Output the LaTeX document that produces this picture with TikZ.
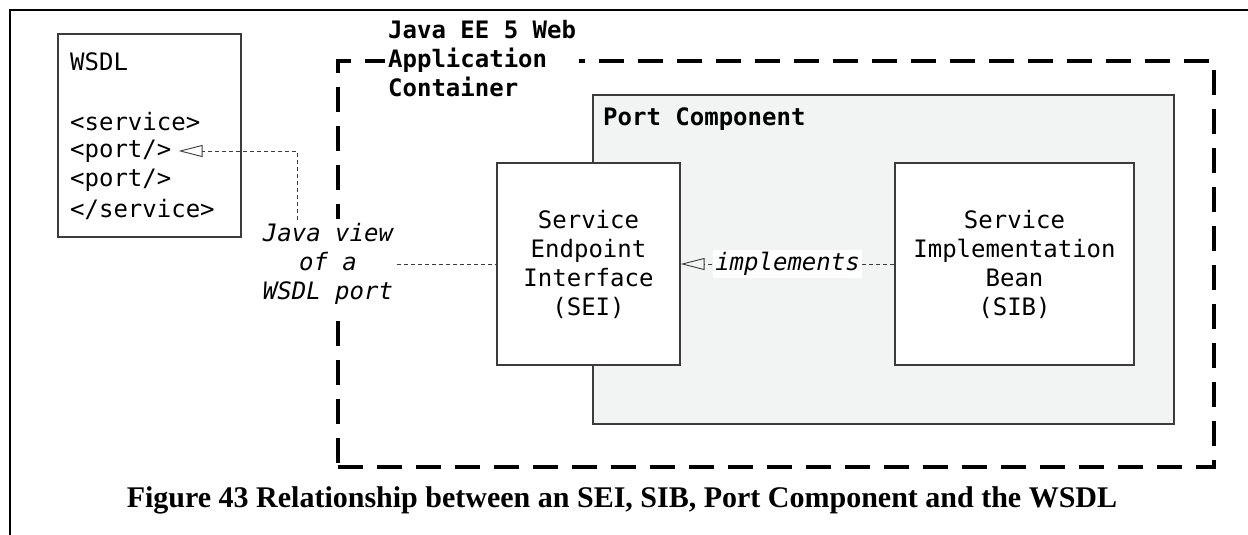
\documentclass[tikz,border=0pt]{standalone}
\usepackage{fontspec}
\setmainfont{Liberation Serif}
\setmonofont{DejaVu Sans Mono}
\usetikzlibrary{arrows.meta,positioning}
\definecolor{portgray}{RGB}{242,243,243}
\definecolor{edge}{RGB}{60,60,60}

\begin{document}
\begin{tikzpicture}[x=1pt, y=-1pt,
		box/.style={draw=edge, line width=1.2pt, inner sep=0pt, align=center},
		code/.style={font=\ttfamily\fontsize{24}{29}\selectfont, inner sep=0pt},
		link/.style={draw=edge, line width=0.9pt, dash pattern=on 4pt off 3pt},
		open/.style={-{Triangle[open, length=24pt, width=12pt, line width=0.9pt]}}]
		\useasboundingbox (0,0) rectangle (1248,535);
		%frame
		\draw[line width=1.8pt] (10,535) -- (10,10) -- (1248,10);
		%WSDL
		\node[box, minimum width=183pt, minimum height=203pt] (wsdl) at (149.5,135.5) {};
		\node[code, anchor=west] (wname) at (70,62) {WSDL};
		\node[code, anchor=west] (service) at (70,122) {<service>};
		\node[code, anchor=west] (port1) at (70,151) {<port/>};
		\node[code, anchor=west] (port2) at (70,180) {<port/>};
		\node[code, anchor=west] (endservice) at (70,209) {</service>};
		%container
		\node[draw, line width=4pt, dash pattern=on 25pt off 14pt, minimum width=876pt, minimum height=406pt] (ee) at (776,264) {};
		\node[code, font=\ttfamily\bfseries\fontsize{24}{29}\selectfont, fill=white, inner sep=3pt, align=left, anchor=west] (eetitle) at (385,59) {Java EE 5 Web\\Application\\Container};
		%port component
		\node[box, fill=portgray, minimum width=581pt, minimum height=329pt] (port) at (883.5,259.5) {};
		\node[code, font=\ttfamily\bfseries\fontsize{24}{29}\selectfont, anchor=west] (porttitle) at (603,119) {Port Component};
		\node[box, code, fill=white, minimum width=183pt, minimum height=202pt] (sei) at (588.5,264) {Service\\Endpoint\\Interface\\(SEI)};
		\node[box, code, fill=white, minimum width=239pt, minimum height=202pt] (sib) at (1014.5,264) {Service\\Implementation\\Bean\\(SIB)};
		\draw[link, open] (sib) -- node[code, font=\ttfamily\itshape\fontsize{24}{29}\selectfont, fill=white, inner sep=2pt] (impl) {implements} (sei);
		%java view
		\node[code, font=\ttfamily\itshape\fontsize{24}{29}\selectfont, align=center, fill=white, inner sep=4pt] (javaview) at (328,264) {Java view\\of a\\WSDL port};
		\coordinate (viewtop) at (297,220);
		\draw[link] (javaview) -- (sei);
		\draw[link, open] (viewtop) |- ([xshift=7pt]port1.east);
		%caption
		\node[font=\bfseries\fontsize{30}{36}\selectfont] (caption) at (622,500) {Figure 43 Relationship between an SEI, SIB, Port Component and the WSDL};
	\end{tikzpicture}
\end{document}
